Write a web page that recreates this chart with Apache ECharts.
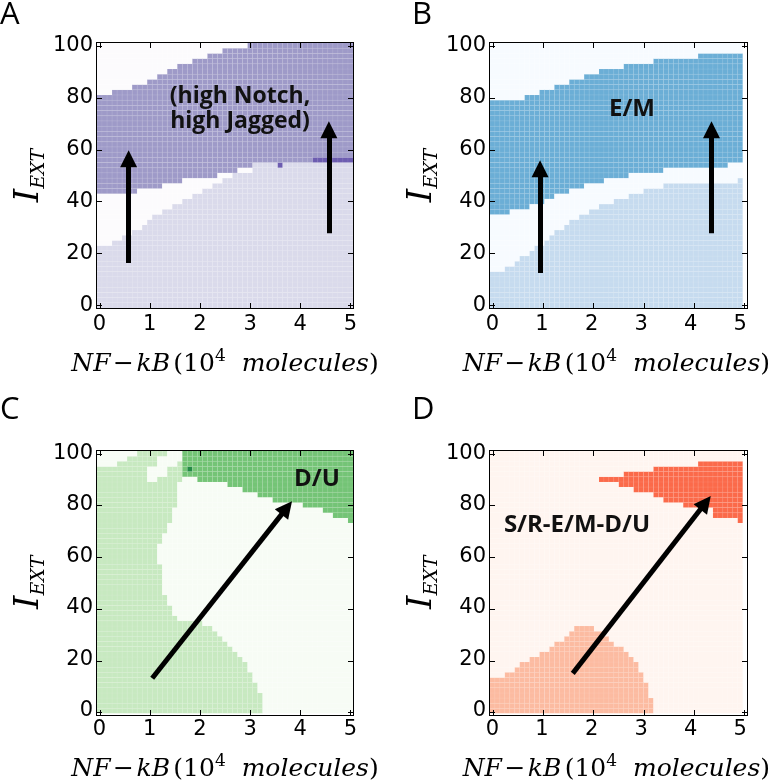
<!DOCTYPE html>
<html>
<head>
<meta charset="utf-8">
<script src="https://cdn.jsdelivr.net/npm/echarts@6/dist/echarts.min.js"></script>
<style>
html, body { margin: 0; padding: 0; background: #fff; }
#chart { width: 772px; height: 783px; }
</style>
</head>
<body>
<div id="chart"></div>
<script>
// scan grid: NF-kB (10^4 molecules) on x, I_EXT on y
const xs = [0, 0.1, 0.2, 0.3, 0.4, 0.5, 0.6, 0.7, 0.8, 0.9, 1, 1.1, 1.2, 1.3, 1.4, 1.5, 1.6, 1.7, 1.8, 1.9,
  2, 2.1, 2.2, 2.3, 2.4, 2.5, 2.6, 2.7, 2.8, 2.9, 3, 3.1, 3.2, 3.3, 3.4, 3.5, 3.6, 3.7, 3.8, 3.9,
  4, 4.1, 4.2, 4.3, 4.4, 4.5, 4.6, 4.7, 4.8, 4.9, 5]
const ys = [0, 2, 4, 6, 8, 10, 12, 14, 16, 18, 20, 22, 24, 26, 28, 30, 32, 34, 36, 38, 40, 42, 44, 46, 48, 50,
  52, 54, 56, 58, 60, 62, 64, 66, 68, 70, 72, 74, 76, 78, 80, 82, 84, 86, 88, 90, 92, 94, 96, 98, 100]
const xTicks = [0, 1, 2, 3, 4, 5]
const yTicks = [0, 20, 40, 60, 80, 100]
const xRange = [-0.05, 5.05]
const yRange = [-1, 101]

// A: top of the lower (light) state, bottom and top of the (high Notch, high Jagged) band, per column
const aLowTop = [22, 22, 22, 24, 24, 26, 26, 28, 28, 30, 32, 34, 34, 36, 36, 38, 38, 40, 40, 42, 42, 44, 44, 46, 46,
  48, 48, 50, 50, 50, 50, 54, 54, 54, 54, 54, 54, 54, 54, 54, 54, 54, 54, 54, 54, 54, 54, 54, 54, 54, 54]
const aBandBot = [44, 44, 44, 44, 44, 44, 44, 44, 46, 46, 46, 46, 46, 48, 48, 48, 48, 50, 50, 50, 50, 50, 50, 50, 52,
  52, 52, 52, 54, 54, 54, 56, 56, 56, 56, 56, 56, 56, 56, 56, 56, 56, 56, 58, 58, 58, 58, 58, 58, 58, 58]
const aBandTop = [80, 80, 80, 82, 82, 82, 82, 84, 84, 84, 86, 86, 88, 88, 90, 90, 92, 92, 92, 94, 94, 94, 96, 96, 96,
  98, 98, 98, 98, 98, 100, 100, 100, 100, 100, 100, 100, 100, 100, 100, 100, 100, 100, 100, 100, 100, 100, 100, 100, 100, 100]
const aDarkCells = [[3.6, 54], [4.3, 56], [4.4, 56], [4.5, 56], [4.6, 56], [4.7, 56], [4.8, 56], [4.9, 56], [5, 56]]

// B: same layout, E/M band
const bLowTop = [12, 12, 12, 14, 14, 16, 18, 18, 20, 22, 22, 24, 26, 28, 28, 30, 32, 32, 34, 34, 36, 36, 38, 38, 38,
  40, 40, 40, 42, 42, 42, 44, 44, 44, 44, 46, 46, 46, 46, 46, 46, 46, 46, 46, 46, 46, 46, 46, 46, 46, 48]
const bBandBot = [36, 36, 36, 36, 38, 38, 38, 38, 40, 40, 40, 42, 42, 44, 44, 44, 46, 46, 46, 48, 48, 48, 48, 50, 50,
  50, 50, 50, 52, 52, 52, 52, 52, 52, 52, 54, 54, 54, 54, 54, 54, 54, 54, 54, 54, 54, 54, 54, 56, 56, 56]
const bBandTop = [78, 78, 78, 78, 78, 78, 78, 80, 80, 80, 82, 82, 82, 84, 84, 84, 86, 86, 86, 88, 88, 88, 90, 90, 90,
  90, 90, 92, 92, 92, 92, 92, 92, 94, 94, 94, 94, 94, 94, 94, 94, 94, 96, 96, 96, 96, 96, 96, 96, 96, 96]

// C: right edge (NF-kB) of the light green state for each I_EXT row, bottom of D/U per column
const cLeftEdge = [3.2, 3.2, 3.2, 3.2, 3.1, 3.1, 3.0, 3.0, 2.9, 2.9, 2.8, 2.7, 2.6, 2.5, 2.4, 2.3, 2.2, 2.0,
  1.5, 1.4, 1.4, 1.3, 1.3, 1.2, 1.2, 1.2, 1.2, 1.2, 1.2, 1.1, 1.1, 1.1, 1.1, 1.2, 1.2, 1.3, 1.3,
  1.4, 1.4, 1.4, 1.5, 1.5, 1.5, 1.5, 1.5, 1.6, 1.6, 1.6, 1.6, 1.6, 1.6]
const cDUBot = [null, null, null, null, null, null, null, null, null, null, null, null, null, null, null, null, null,
  92, 92, 92, 90, 90, 90, 90, 90, 90, 88, 88, 88, 86, 86, 86, 84, 84, 84, 82, 82, 82, 82, 82, 82,
  80, 80, 80, 80, 78, 78, 76, 76, 76, 74]
const cWhiteTop = [[0, 96, 100], [0.1, 96, 100], [0.2, 96, 100], [0.3, 96, 100], [0.4, 98, 100], [0.5, 98, 100],
  [0.6, 100, 100], [0.7, 100, 100], [1.0, 90, 94], [1.1, 90, 94], [1.2, 92, 98], [1.3, 92, 98],
  [1.4, 96, 100], [1.5, 96, 100], [1.6, 98, 100]]
const cDarkCells = [[1.8, 94]]

// D: top of the lower salmon state, bottom and top of the upper state, per column
const dLowTop = [12, 12, 12, 14, 14, 16, 18, 18, 20, 20, 22, 22, 24, 26, 26, 28, 30, 32, 32, 32, 32, 30, 30, 28, 26,
  24, 24, 22, 20, 18, 14, 10, 4, null, null, null, null, null, null, null, null, null, null, null, null, null, null, null, null, null, null]
const dTopBot = [null, null, null, null, null, null, null, null, null, null, null, null, null, null, null, null, null, null, null, null, null, null,
  90, 90, 90, 90, 88, 88, 88, 86, 86, 86, 86, 84, 84, 82, 82, 82, 82, 80, 80, 80, 80, 80, 80, 76, 76, 76, 76, 76, 74]
const dTopTop = [null, null, null, null, null, null, null, null, null, null, null, null, null, null, null, null, null, null, null, null, null, null,
  90, 90, 90, 90, 90, 92, 92, 92, 92, 92, 92, 94, 94, 94, 94, 94, 94, 94, 94, 94, 96, 96, 96, 96, 96, 96, 96, 96, 96]

// arrows: [x0, y0, x1, y1]
const arrowsA = [[0.58, 16.3, 0.58, 56.4], [4.57, 27.8, 4.57, 67.6]]
const arrowsB = [[0.96, 12.5, 0.96, 52.6], [4.42, 27.8, 4.42, 67.6]]
const arrowsC = [[1.05, 12.7, 3.73, 78.9]]
const arrowsD = [[1.62, 14.6, 4.30, 80.9]]

const palettes = [
  ['#fcfbfd', '#dadaeb', '#9e9ac8', '#6c5cb0'],
  ['#f7fbff', '#c6dbef', '#6baed6'],
  ['#f7fcf5', '#c7e9c0', '#74c476', '#238b45'],
  ['#fff5f0', '#fcbba1', '#fb6a4a']
]

const same = (a, b) => Math.abs(a - b) < 1e-6

const cellsA = []
const cellsB = []
const cellsC = []
const cellsD = []
xs.forEach((x, i) => {
  ys.forEach((y, j) => {
    // A
    let s = 0
    if (y <= aLowTop[i]) s = 1
    else if (y >= aBandBot[i] && y <= aBandTop[i]) s = 2
    if (aDarkCells.some(c => same(c[0], x) && c[1] === y)) s = 3
    cellsA.push([x, y, s])
    // B
    s = 0
    if (y <= bLowTop[i]) s = 1
    else if (y >= bBandBot[i] && y <= bBandTop[i]) s = 2
    cellsB.push([x, y, s])
    // C
    s = x <= cLeftEdge[j] + 1e-6 ? 1 : 0
    if (cWhiteTop.some(c => same(c[0], x) && y >= c[1] && y <= c[2])) s = 0
    if (cDUBot[i] !== null && y >= cDUBot[i]) s = 2
    if (cDarkCells.some(c => same(c[0], x) && c[1] === y)) s = 3
    cellsC.push([x, y, s])
    // D
    s = 0
    if (dLowTop[i] !== null && y <= dLowTop[i]) s = 1
    if (dTopBot[i] !== null && y >= dTopBot[i] && y <= dTopTop[i]) s = 2
    cellsD.push([x, y, s])
  })
})

const grids = [
  { left: 97, top: 43, width: 256, height: 265 },
  { left: 490, top: 43, width: 257, height: 265 },
  { left: 97, top: 451, width: 256, height: 264 },
  { left: 490, top: 451, width: 257, height: 264 }
]

const serif = 'DejaVu Serif'
// mathtext-like axis titles
const xNameText = '{a|NF\u200a−\u200akB} {b|(10}{s|4}{b|  }{a|molecules}{b|)}'
const xNameRich = {
  a: { fontFamily: serif, fontStyle: 'italic', fontSize: 25, lineHeight: 32, color: '#000' },
  b: { fontFamily: serif, fontSize: 25, lineHeight: 32, color: '#000' },
  s: { fontFamily: serif, fontSize: 17, lineHeight: 16, verticalAlign: 'top', color: '#000' }
}
const yNameText = '{i|I}{s|EXT}'
const yNameRich = {
  i: { fontFamily: serif, fontStyle: 'italic', fontSize: 34, lineHeight: 40, color: '#000' },
  s: { fontFamily: serif, fontStyle: 'italic', fontSize: 19, lineHeight: 18, verticalAlign: 'bottom', color: '#000' }
}

// axes carry the scales, labels and titles; the box and inward ticks are graphic bars
const xAxes = grids.map((g, k) => ({
  gridIndex: k, type: 'value', min: xRange[0], max: xRange[1],
  axisLine: { show: false }, axisTick: { show: false }, splitLine: { show: false },
  axisLabel: { customValues: xTicks, margin: 6, fontFamily: 'DejaVu Sans', fontSize: 21, color: '#000' },
  name: xNameText, nameLocation: 'middle', nameGap: 40,
  nameTextStyle: { rich: xNameRich }
}))
const yAxes = grids.map((g, k) => ({
  gridIndex: k, type: 'value', min: yRange[0], max: yRange[1],
  axisLine: { show: false }, axisTick: { show: false }, splitLine: { show: false },
  axisLabel: { customValues: yTicks, margin: 4, fontFamily: 'DejaVu Sans', fontSize: 21, color: '#000' },
  name: yNameText, nameLocation: 'middle', nameGap: 45,
  nameTextStyle: { rich: yNameRich }
}))

const cellSeries = (data, k) => ({
  type: 'custom',
  xAxisIndex: k,
  yAxisIndex: k,
  silent: true,
  clip: true,
  z: 1,
  data: data,
  encode: { x: 0, y: 1 },
  renderItem: (params, api) => {
    const x = api.value(0)
    const y = api.value(1)
    const p0 = api.coord([x - 0.05, y + 1])
    const p1 = api.coord([x + 0.05, y - 1])
    return {
      type: 'rect',
      shape: { x: p0[0], y: p0[1], width: p1[0] - p0[0], height: p1[1] - p0[1] },
      style: { fill: palettes[k][api.value(2)], stroke: 'rgba(255,255,255,0.12)', lineWidth: 0.5 }
    }
  }
})

const arrowSeries = (list, k) => ({
  type: 'lines',
  coordinateSystem: 'cartesian2d',
  xAxisIndex: k,
  yAxisIndex: k,
  silent: true,
  z: 5,
  symbol: ['none', 'triangle'],
  symbolSize: [17, 17],
  lineStyle: { color: '#000', width: 5, opacity: 1 },
  data: list.map(a => ({ coords: [[a[0], a[1]], [a[2], a[3]]] }))
})

const letter = (text, left, top) => ({
  type: 'text', left: left, top: top,
  style: { text: text, fontFamily: 'Open Sans', fontSize: 31, fill: '#000' }
})
const note = (text, cx, top, size) => ({
  type: 'text', x: cx, y: top, z: 10,
  style: { text: text, fontFamily: 'Open Sans', fontWeight: 'bold', fontSize: size, lineHeight: size + 2, fill: '#111', align: 'center' }
})

// matplotlib-style box with inward ticks on all four sides, from each grid's geometry and axis range
const bar = (x, y, w, h) => ({ type: 'rect', z: 20, silent: true, shape: { x: x, y: y, width: w, height: h }, style: { fill: '#000' } })
const frames = []
grids.forEach(g => {
  const L = g.left
  const T = g.top
  const R = g.left + g.width
  const B = g.top + g.height
  const px = v => Math.round(L + (v - xRange[0]) / (xRange[1] - xRange[0]) * g.width)
  const py = v => Math.round(B - (v - yRange[0]) / (yRange[1] - yRange[0]) * g.height)
  frames.push(bar(L - 1, T - 1, g.width + 2, 1), bar(L - 1, B, g.width + 2, 1), bar(L - 1, T - 1, 1, g.height + 2), bar(R, T - 1, 1, g.height + 2))
  xTicks.forEach(v => frames.push(bar(px(v), B - 5, 1, 5), bar(px(v), T, 1, 5)))
  yTicks.forEach(v => frames.push(bar(L, py(v), 5, 1), bar(R - 5, py(v), 5, 1)))
})

const chart = echarts.init(document.getElementById('chart'))
chart.setOption({
  animation: false,
  backgroundColor: '#fff',
  grid: grids,
  xAxis: xAxes,
  yAxis: yAxes,
  series: [
    cellSeries(cellsA, 0), cellSeries(cellsB, 1), cellSeries(cellsC, 2), cellSeries(cellsD, 3),
    arrowSeries(arrowsA, 0), arrowSeries(arrowsB, 1), arrowSeries(arrowsC, 2), arrowSeries(arrowsD, 3)
  ],
  graphic: [
    letter('A', 0, 0), letter('B', 412, 0), letter('C', 0, 395), letter('D', 412, 395),
    note('(high Notch,\nhigh Jagged)', 240, 84, 23),
    note('E/M', 632, 96, 24),
    note('D/U', 317, 466, 24),
    note('S/R-E/M-D/U', 577, 512, 24)
  ].concat(frames)
})
</script>
</body>
</html>
